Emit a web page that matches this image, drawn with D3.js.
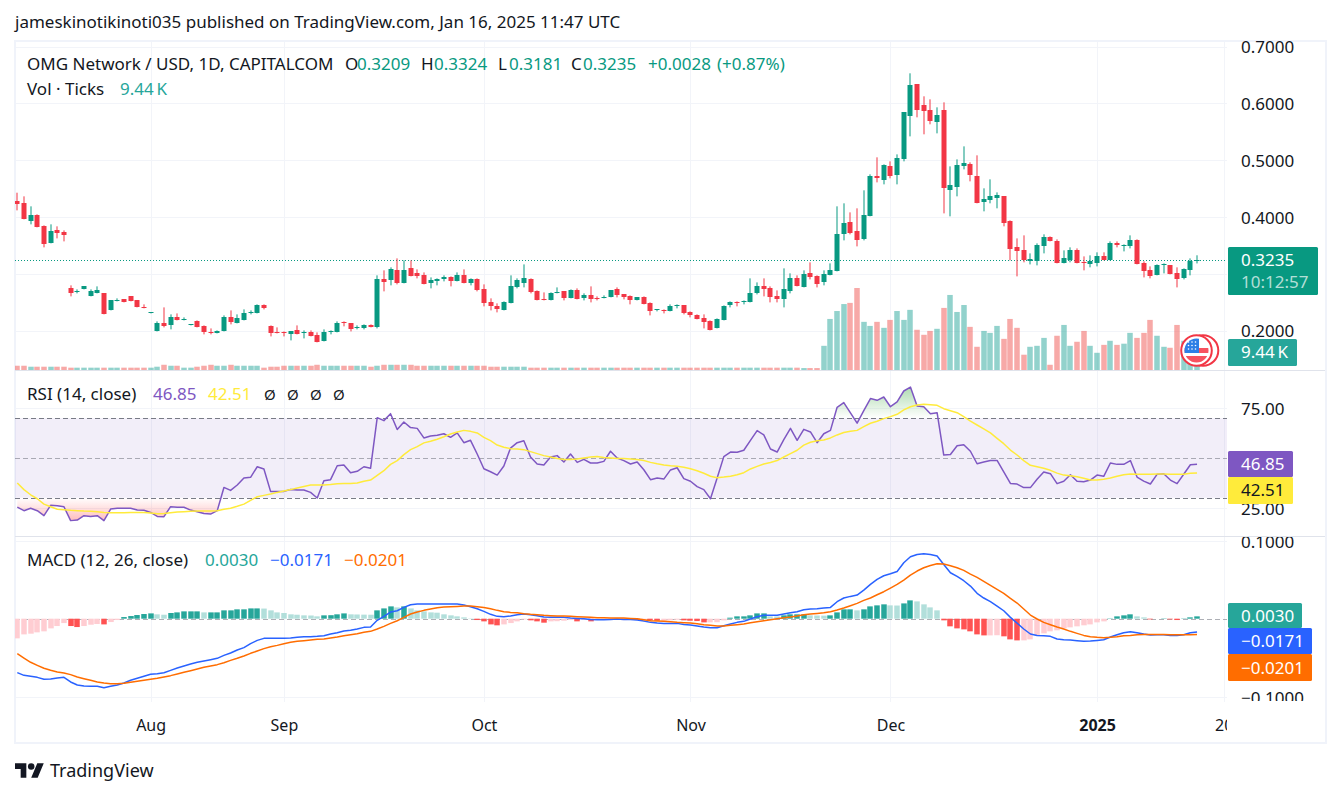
<!DOCTYPE html>
<html>
<head>
<meta charset="utf-8">
<script src="https://cdnjs.cloudflare.com/ajax/libs/d3/7.8.5/d3.min.js"></script>
<style>
  body { margin: 0; background: #fff; }
  text { font-family: "Noto Sans", sans-serif; fill: #131722; }
</style>
</head>
<body>
<div id="chart"></div>
<script>
// daily candles
var opens = [.4274,.4239,.3922,.4027,.3834,.3534,.3763,.3728,.2742,.2671,.2724,.2601,.2654,.2654,.2354,.2513,.2548,.2601,.2530,.2407,.2301,.1984,.2125,.2090,.2231,.2178,.2090,.2161,.2073,.1967,.1949,.1984,.2231,.2125,.2178,.2301,.2301,.2442,.2073,.1967,.1967,.1932,.2002,.1949,.1967,.1914,.1808,.1967,.1967,.2143,.2125,.2037,.2037,.2090,.2055,.2900,.2883,.3059,.2830,.3094,.3006,.2971,.2830,.2865,.2900,.2935,.2865,.2971,.2830,.2900,.2724,.2495,.2425,.2354,.2478,.2759,.2830,.2900,.2689,.2548,.2530,.2654,.2689,.2566,.2706,.2566,.2618,.2566,.2566,.2583,.2724,.2636,.2601,.2530,.2583,.2478,.2354,.2354,.2337,.2425,.2442,.2319,.2266,.2213,.2161,.2037,.2178,.2442,.2495,.2495,.2495,.2654,.2777,.2742,.2601,.2548,.2689,.2918,.2759,.3006,.2953,.2847,.2971,.3041,.3693,.3904,.3745,.3605,.4010,.4714,.4644,.4890,.4732,.5013,.5771,.6334,.5964,.5876,.5665,.5876,.4468,.4520,.4890,.4925,.4714,.4256,.4291,.4327,.4362,.3922,.3464,.3411,.3217,.3217,.3481,.3640,.3569,.3182,.3235,.3411,.3200,.3164,.3182,.3305,.3235,.3534,.3481,.3481,.3587,.3182,.3059,.2971,.3147,.3147,.3006,.2918,.3059,.3209];
var highs = [.4426,.4362,.4186,.4045,.3851,.3869,.3834,.3763,.2795,.2724,.2777,.2724,.2777,.2654,.2530,.2566,.2548,.2601,.2530,.2460,.2319,.2161,.2407,.2284,.2301,.2231,.2108,.2178,.2090,.2037,.2002,.2266,.2354,.2284,.2372,.2354,.2460,.2460,.2090,.2055,.1984,.1984,.2090,.2002,.2002,.1967,.2020,.2002,.2161,.2161,.2125,.2090,.2108,.2108,.2971,.3059,.3112,.3270,.3235,.3235,.3076,.3023,.2935,.2918,.2971,.2953,.3023,.3076,.2918,.2918,.2812,.2566,.2478,.2513,.2971,.2918,.3164,.2918,.2706,.2671,.2671,.2759,.2689,.2724,.2742,.2654,.2777,.2601,.2618,.2706,.2759,.2636,.2618,.2583,.2601,.2495,.2372,.2372,.2460,.2460,.2442,.2337,.2284,.2284,.2178,.2213,.2442,.2513,.2513,.2530,.2918,.2847,.2918,.2777,.2706,.3094,.3006,.2971,.3059,.3200,.2971,.3059,.3182,.4186,.4239,.4080,.4151,.4468,.4749,.5049,.4925,.4978,.5101,.5841,.6528,.6334,.6123,.6070,.5929,.6017,.4890,.5013,.5242,.4961,.5084,.4503,.4661,.4432,.4362,.3939,.3622,.3675,.3358,.3534,.3693,.3657,.3605,.3411,.3464,.3446,.3305,.3323,.3376,.3376,.3569,.3569,.3517,.3675,.3605,.3217,.3129,.3164,.3182,.3147,.3112,.3094,.3270,.3324];
var lows = [.4115,.3957,.3869,.3816,.3464,.3534,.3622,.3569,.2601,.2654,.2724,.2601,.2654,.2284,.2354,.2513,.2495,.2513,.2407,.2390,.2301,.1984,.2055,.2020,.2178,.2178,.2090,.2055,.1932,.1932,.1949,.1984,.2108,.2125,.2178,.2284,.2301,.2372,.1896,.1949,.1896,.1826,.1932,.1861,.1896,.1791,.1808,.1932,.1967,.2073,.1984,.2020,.2020,.2055,.2037,.2689,.2795,.2812,.2830,.2953,.2918,.2812,.2742,.2795,.2865,.2777,.2865,.2830,.2795,.2689,.2425,.2354,.2319,.2354,.2478,.2742,.2759,.2654,.2530,.2530,.2530,.2654,.2530,.2566,.2548,.2530,.2495,.2530,.2566,.2583,.2583,.2548,.2460,.2530,.2460,.2266,.2337,.2301,.2337,.2390,.2284,.2231,.2196,.2037,.2002,.2037,.2178,.2407,.2425,.2460,.2495,.2636,.2601,.2495,.2495,.2407,.2654,.2777,.2759,.2900,.2759,.2795,.2971,.3041,.3587,.3693,.3481,.3587,.4010,.4608,.4573,.4679,.4573,.4978,.5418,.5753,.5454,.5630,.5471,.4062,.4010,.4362,.4837,.4626,.4239,.4098,.4239,.4151,.3834,.3235,.2953,.3200,.3164,.3147,.3358,.3569,.3182,.3182,.3200,.3182,.3059,.3112,.3129,.3235,.3235,.3464,.3393,.3446,.3164,.2935,.2918,.2971,.3006,.2988,.2759,.2900,.2971,.3181];
var closes = [.4221,.3957,.4027,.3816,.3517,.3745,.3710,.3675,.2654,.2695,.2777,.2689,.2706,.2284,.2530,.2530,.2495,.2513,.2407,.2390,.2319,.2125,.2073,.2231,.2178,.2196,.2108,.2055,.1967,.1949,.1984,.2231,.2143,.2213,.2301,.2319,.2442,.2390,.1949,.1949,.1949,.1984,.1932,.1967,.1896,.1791,.1967,.1984,.2125,.2125,.2020,.2055,.2090,.2055,.2900,.2847,.3076,.2830,.3059,.2953,.2953,.2812,.2883,.2900,.2935,.2865,.2971,.2830,.2900,.2706,.2478,.2425,.2372,.2495,.2777,.2883,.2918,.2671,.2530,.2530,.2654,.2671,.2566,.2706,.2548,.2618,.2548,.2548,.2583,.2706,.2618,.2583,.2530,.2583,.2460,.2337,.2372,.2337,.2425,.2442,.2301,.2266,.2196,.2143,.2002,.2196,.2425,.2495,.2478,.2513,.2654,.2777,.2724,.2583,.2548,.2724,.2918,.2777,.2988,.2935,.2812,.2988,.3059,.3693,.3886,.3710,.3587,.4027,.4714,.4679,.4908,.4714,.5031,.5841,.6317,.5876,.5859,.5683,.5788,.4503,.4556,.4908,.4943,.4732,.4239,.4309,.4362,.4379,.3886,.3429,.3393,.3235,.3252,.3499,.3640,.3569,.3182,.3270,.3411,.3182,.3182,.3217,.3305,.3235,.3534,.3499,.3499,.3587,.3164,.3041,.2953,.3147,.3164,.2988,.2900,.3076,.3217,.3235];

// volume in thousands of ticks
var volumes = [2.2,2.2,1.7,1.7,1.7,1.7,1.7,1.7,1.2,1.2,1.2,1.2,1.2,1.2,1.2,1.2,1.2,1.2,1.2,1.2,1.2,1.7,2.7,2.2,2.2,1.2,1.2,1.7,2.2,2.7,2.2,2.2,2.7,2.2,2.2,2.2,2.2,1.2,1.7,1.7,2.2,2.2,2.2,2.2,2.2,2.7,2.2,2.2,2.2,2.2,2.2,2.2,2.2,1.7,2.2,2.7,2.7,2.7,2.7,2.7,2.2,2.2,2.2,2.2,2.2,2.2,2.2,2.2,2.2,2.2,2.2,1.7,1.7,1.7,1.7,1.7,1.7,1.2,1.2,1.2,1.2,1.2,1.2,1.2,1.2,1.2,1.2,1.2,1.2,1.2,1.2,1.2,1.2,1.2,1.2,1.2,1.2,1.2,1.2,1.2,1.2,1.2,1.2,1.2,1.2,1.2,1.2,1.2,1.2,1.2,1.2,1.2,1.2,1.2,1.2,1.2,1.2,1.2,1.0,1.0,1.0,12.5,26.4,30.5,34.1,34.7,42.4,24.9,22.8,24.9,21.8,25.9,30.5,25.9,31.1,20.8,18.2,20.2,21.3,32.1,38.8,30.0,33.6,22.3,12.0,20.2,19.2,22.8,16.1,26.4,21.8,7.9,12.0,12.5,16.6,2.7,17.7,23.3,12.5,14.6,20.2,12.5,8.9,13.0,15.1,13.0,13.6,19.2,16.6,19.2,25.9,17.7,12.0,11.5,23.3,15.1,13.0,9.44];

var rsi = [25.3,23.5,24.7,23.5,21.0,26.2,26.0,25.5,18.5,18.8,21.0,20.6,21.0,18.5,24.3,24.7,24.7,24.7,23.8,23.7,22.6,20.6,20.5,25.5,25.2,25.2,23.8,23.0,22.1,21.8,23.5,35.2,33.7,36.4,39.9,40.3,45.6,44.5,33.2,33.2,33.2,34.2,33.9,33.9,32.7,29.9,38.6,39.1,46.1,46.5,42.6,43.3,45.6,44.8,70.3,68.8,72.3,64.3,68.1,65.3,64.9,60.1,61.1,61.4,62.2,60.4,62.6,57.7,58.9,52.0,44.6,43.1,41.4,46.0,55.0,57.7,58.7,50.5,47.0,46.5,50.5,51.2,48.0,52.0,47.8,49.3,47.5,47.5,48.3,53.4,50.0,48.7,47.0,48.0,44.1,39.1,39.9,39.4,44.0,45.1,39.6,38.3,35.6,34.1,29.5,39.9,50.7,53.0,52.9,53.9,58.9,63.8,61.6,54.5,53.0,59.2,64.9,58.9,64.4,63.1,57.7,62.2,63.9,75.5,77.9,72.7,67.5,73.8,79.9,79.0,80.7,75.8,78.2,83.7,85.7,76.2,75.8,72.3,72.8,51.5,51.8,56.2,56.7,53.4,47.1,48.0,48.7,48.8,43.0,37.2,36.9,35.1,35.1,39.3,43.0,42.1,37.1,38.3,41.6,38.3,38.1,38.9,41.4,40.8,47.5,46.8,46.8,48.7,40.4,38.4,36.9,41.8,42.1,38.9,37.1,41.8,46.6,46.85];
var rsiMa = [37.4,34.1,31.5,29.5,26.8,25.5,24.2,24.0,23.7,23.5,23.3,23.2,23.0,22.6,22.5,22.5,22.5,22.6,22.6,22.6,22.3,22.0,22.1,22.5,22.8,23.0,23.2,23.3,23.3,23.3,23.5,24.2,24.7,25.7,26.8,28.7,30.5,31.2,31.9,32.7,33.4,34.1,34.9,35.7,36.4,36.4,36.4,36.7,37.1,37.2,37.2,37.4,38.3,38.9,41.3,43.6,46.8,48.7,51.7,54.2,55.7,57.6,58.4,59.4,60.7,62.1,63.1,63.9,63.4,62.6,60.4,58.7,56.5,55.4,54.7,54.5,54.2,53.2,52.2,51.2,50.5,49.8,49.3,49.3,49.5,50.0,50.5,50.7,50.3,50.0,49.7,49.7,49.5,49.2,48.7,47.8,47.1,46.5,46.1,45.8,45.3,44.6,43.6,42.3,40.8,40.1,40.4,40.8,41.6,42.6,44.5,45.8,47.0,47.7,48.7,50.5,52.2,53.9,56.5,57.9,58.7,59.1,60.1,61.6,62.8,63.4,63.9,65.8,67.5,68.5,69.8,70.8,72.0,74.2,75.8,76.7,77.0,76.8,76.5,74.8,73.8,72.8,70.8,68.6,66.6,64.6,62.6,59.9,57.2,54.0,51.5,48.7,46.3,45.6,44.8,43.8,42.4,41.4,41.1,40.6,39.8,38.9,38.9,39.3,39.9,40.8,41.6,41.9,41.8,41.8,41.8,41.9,41.9,41.8,41.8,41.8,42.3,42.51];

var macd = [-.0692,-.0726,-.0739,-.0752,-.0777,-.0773,-.0760,-.0752,-.0811,-.0850,-.0863,-.0867,-.0867,-.0884,-.0867,-.0850,-.0824,-.0790,-.0764,-.0739,-.0713,-.0705,-.0692,-.0662,-.0632,-.0606,-.0581,-.0559,-.0542,-.0525,-.0508,-.0470,-.0440,-.0401,-.0371,-.0320,-.0278,-.0252,-.0252,-.0252,-.0252,-.0248,-.0239,-.0231,-.0231,-.0226,-.0218,-.0196,-.0179,-.0158,-.0149,-.0132,-.0111,-.0107,-.0021,.0030,.0085,.0102,.0145,.0179,.0188,.0188,.0188,.0188,.0188,.0188,.0188,.0175,.0154,.0128,.0094,.0056,.0030,.0026,.0034,.0051,.0060,.0051,.0038,.0021,.0017,.0017,.0017,.0009,.0004,0,-.0009,-.0013,-.0013,-.0009,-.0004,-.0009,-.0009,-.0017,-.0030,-.0047,-.0056,-.0060,-.0060,-.0060,-.0073,-.0081,-.0094,-.0107,-.0115,-.0115,-.0090,-.0068,-.0047,-.0034,-.0004,.0026,.0043,.0043,.0043,.0060,.0077,.0090,.0115,.0124,.0128,.0137,.0145,.0218,.0265,.0286,.0303,.0367,.0440,.0504,.0551,.0576,.0606,.0717,.0794,.0824,.0833,.0824,.0803,.0696,.0589,.0542,.0487,.0418,.0325,.0265,.0218,.0162,.0102,.0017,-.0056,-.0132,-.0196,-.0214,-.0218,-.0226,-.0260,-.0269,-.0273,-.0282,-.0290,-.0286,-.0278,-.0269,-.0235,-.0205,-.0179,-.0167,-.0179,-.0196,-.0209,-.0205,-.0205,-.0214,-.0214,-.0205,-.0179,-.0171];
var signal = [-.0448,-.0504,-.0559,-.0598,-.0636,-.0662,-.0683,-.0696,-.0717,-.0747,-.0769,-.0790,-.0811,-.0824,-.0833,-.0833,-.0828,-.0816,-.0803,-.0790,-.0777,-.0764,-.0747,-.0730,-.0709,-.0687,-.0666,-.0645,-.0623,-.0606,-.0589,-.0564,-.0534,-.0508,-.0478,-.0444,-.0414,-.0384,-.0359,-.0342,-.0320,-.0303,-.0290,-.0282,-.0273,-.0265,-.0260,-.0248,-.0235,-.0218,-.0205,-.0192,-.0175,-.0162,-.0132,-.0098,-.0060,-.0026,.0017,.0060,.0085,.0107,.0124,.0141,.0149,.0154,.0158,.0162,.0162,.0154,.0145,.0128,.0107,.0090,.0081,.0077,.0064,.0056,.0051,.0043,.0038,.0034,.0034,.0030,.0026,.0021,.0017,.0013,.0013,.0009,.0009,.0009,.0004,0,-.0013,-.0026,-.0030,-.0034,-.0038,-.0047,-.0051,-.0056,-.0064,-.0077,-.0085,-.0094,-.0094,-.0085,-.0077,-.0068,-.0051,-.0038,-.0026,-.0013,0,.0013,.0021,.0034,.0051,.0060,.0068,.0077,.0090,.0111,.0137,.0167,.0196,.0235,.0265,.0307,.0346,.0393,.0440,.0495,.0559,.0611,.0653,.0683,.0705,.0700,.0679,.0653,.0619,.0572,.0529,.0478,.0427,.0376,.0325,.0260,.0201,.0124,.0047,-.0004,-.0047,-.0077,-.0107,-.0132,-.0162,-.0188,-.0214,-.0231,-.0239,-.0243,-.0239,-.0231,-.0218,-.0214,-.0205,-.0201,-.0201,-.0201,-.0201,-.0205,-.0205,-.0205,-.0205,-.0201];
var hist = [-.0252,-.0201,-.0192,-.0175,-.0162,-.0124,-.0094,-.0056,-.0094,-.0107,-.0094,-.0077,-.0068,-.0073,-.0043,-.0017,.0021,.0034,.0047,.0060,.0068,.0056,.0051,.0073,.0081,.0094,.0094,.0094,.0081,.0081,.0081,.0107,.0107,.0120,.0120,.0132,.0132,.0130,.0107,.0081,.0073,.0056,.0051,.0043,.0041,.0030,.0043,.0045,.0056,.0068,.0056,.0054,.0052,.0051,.0107,.0132,.0158,.0145,.0158,.0132,.0107,.0094,.0081,.0077,.0056,.0043,.0030,.0017,.0004,-.0017,-.0034,-.0073,-.0085,-.0073,-.0056,-.0034,-.0009,-.0021,-.0034,-.0051,-.0034,-.0032,-.0026,-.0017,-.0034,-.0017,-.0034,-.0017,-.0009,-.0009,-.0008,-.0017,-.0013,-.0017,-.0017,-.0021,-.0026,-.0026,-.0021,-.0013,-.0021,-.0026,-.0030,-.0047,-.0047,-.0045,-.0021,.0013,.0030,.0030,.0043,.0068,.0068,.0030,.0028,.0043,.0056,.0056,.0056,.0043,.0041,.0039,.0043,.0081,.0120,.0120,.0107,.0120,.0158,.0171,.0184,.0171,.0169,.0196,.0235,.0222,.0184,.0145,.0107,-.0021,-.0098,-.0124,-.0137,-.0162,-.0201,-.0214,-.0214,-.0212,-.0226,-.0265,-.0278,-.0278,-.0265,-.0214,-.0188,-.0162,-.0149,-.0124,-.0111,-.0098,-.0085,-.0073,-.0047,-.0034,.0004,.0030,.0043,.0056,.0030,.0017,-.0009,0,.0004,-.0009,-.0017,.0004,.0017,.0030];

// axis ticks
var priceTicks = [0.7, 0.6, 0.5, 0.4, 0.3, 0.2];
var shownPriceTicks = [0.7, 0.6, 0.5, 0.4, 0.2];
var rsiTicks = [75, 25];
var macdTicks = [0.1, -0.1];
var monthBars = [20, 40, 70, 101, 131, 162, 181];
var monthLabels = ["Aug", "Sep", "Oct", "Nov", "Dec", "2025", "20"];

var width = 1341, height = 797;
var left = 15, plotRight = 1227;

var svg = d3.select("#chart").append("svg")
    .attr("width", width).attr("height", height)
    .style("display", "block");
var defs = svg.append("defs");

// scales
var x = d3.scaleLinear().domain([0, 181]).range([17.3, 1223.7]);
var yPrice = d3.scaleLinear().domain([0.2, 0.7]).range([330.5, 46.5]);
var yVol = d3.scaleLinear().domain([0, 42.4]).range([370, 288]);
var yRsi = d3.scaleLinear().domain([25, 75]).range([507.7, 408.3]);
var yMacd = d3.scaleLinear().domain([-0.1, 0.1]).range([696.7, 540.7]);

var green = "#089981", red = "#f23645", gridColor = "#f2f4f9", sepColor = "#e0e3eb";
var bars = d3.range(opens.length);

function addClip(id, x0, y0, w, h) {
    defs.append("clipPath").attr("id", id).append("rect")
        .attr("x", x0).attr("y", y0).attr("width", w).attr("height", h);
}
addClip("clip-main", left, 42, plotRight - left, 328);
addClip("clip-rsi", left, 371, plotRight - left, 165);
addClip("clip-macd", left, 538, plotRight - left, 164);
addClip("clip-over", left, 371, plotRight - left, yRsi(70) - 371);
addClip("clip-under", left, yRsi(30), plotRight - left, 536 - yRsi(30));
addClip("clip-macd-axis", 1228, 537, 110, 164);
addClip("clip-time", left, 703, plotRight - left, 38);

function label(xPos, yPos, str, color, size, weight) {
    return svg.append("text")
        .attr("x", xPos).attr("y", yPos)
        .style("font-size", (size || 17) + "px")
        .style("font-weight", weight || 400)
        .style("fill", color || "#131722")
        .text(str);
}

// background grid
var grid = svg.append("g").attr("stroke", gridColor).attr("stroke-width", 1);
grid.selectAll(".v").data(monthBars).enter().append("line")
    .attr("x1", function (d) { return Math.round(x(d)) + 0.5; })
    .attr("x2", function (d) { return Math.round(x(d)) + 0.5; })
    .attr("y1", 42).attr("y2", 702);

function hGrid(ticks, scale) {
    grid.selectAll(null).data(ticks).enter().append("line")
        .attr("x1", left).attr("x2", plotRight)
        .attr("y1", function (d) { return Math.round(scale(d)) + 0.5; })
        .attr("y2", function (d) { return Math.round(scale(d)) + 0.5; });
}
hGrid(priceTicks, yPrice);
hGrid(rsiTicks, yRsi);
hGrid(macdTicks, yMacd);

// frame and pane separators
svg.append("rect").attr("x", 15).attr("y", 41).attr("width", 1311).attr("height", 702)
    .attr("fill", "none").attr("stroke", "#f0f3fa").attr("stroke-width", 2);
svg.selectAll(".sep").data([370.5, 536.5]).enter().append("line")
    .attr("x1", left).attr("x2", 1325)
    .attr("y1", function (d) { return d; }).attr("y2", function (d) { return d; })
    .attr("stroke", sepColor);

// main pane
var main = svg.append("g").attr("clip-path", "url(#clip-main)");

main.selectAll(".vol").data(bars).enter().append("rect")
    .attr("x", function (i) { return Math.round(x(i)) - 2.75; })
    .attr("width", 5.5)
    .attr("y", function (i) { return yVol(volumes[i]); })
    .attr("height", function (i) { return yVol(0) - yVol(volumes[i]); })
    .attr("fill", function (i) { return closes[i] >= opens[i] ? "rgba(38,166,154,.5)" : "rgba(239,83,80,.5)"; });

main.append("line")
    .attr("x1", left).attr("x2", plotRight)
    .attr("y1", Math.round(yPrice(closes[closes.length - 1])) + 0.5)
    .attr("y2", Math.round(yPrice(closes[closes.length - 1])) + 0.5)
    .attr("stroke", green).attr("stroke-dasharray", "1 2");

main.selectAll(".wick").data(bars).enter().append("rect")
    .attr("x", function (i) { return Math.round(x(i)) - 0.5; })
    .attr("width", 1)
    .attr("y", function (i) { return yPrice(highs[i]); })
    .attr("height", function (i) { return yPrice(lows[i]) - yPrice(highs[i]); })
    .attr("fill", function (i) { return closes[i] >= opens[i] ? green : red; });

main.selectAll(".body").data(bars).enter().append("rect")
    .attr("x", function (i) { return Math.round(x(i)) - 2.5; })
    .attr("width", 5)
    .attr("y", function (i) { return Math.round(yPrice(Math.max(opens[i], closes[i]))); })
    .attr("height", function (i) { return Math.max(1, Math.round(Math.abs(yPrice(opens[i]) - yPrice(closes[i])))); })
    .attr("fill", function (i) { return closes[i] >= opens[i] ? green : red; });

// flag marker over the last volume bars
var flag = svg.append("g");
defs.append("clipPath").attr("id", "clip-flag").append("circle").attr("cx", 1196.5).attr("cy", 350.5).attr("r", 12);
flag.append("circle").attr("cx", 1203).attr("cy", 350.5).attr("r", 15.3).attr("fill", "#fff").attr("stroke", "#f23645").attr("stroke-width", 2);
flag.append("circle").attr("cx", 1196.5).attr("cy", 350.5).attr("r", 15.3).attr("fill", "#fff").attr("stroke", "#f23645").attr("stroke-width", 2);
var flagInner = flag.append("g").attr("clip-path", "url(#clip-flag)");
flagInner.append("rect").attr("x", 1184).attr("y", 338).attr("width", 25).attr("height", 25).attr("fill", "#fff");
flagInner.append("rect").attr("x", 1184).attr("y", 348).attr("width", 25).attr("height", 5).attr("fill", "#f7525f");
flagInner.append("rect").attr("x", 1184).attr("y", 356).attr("width", 25).attr("height", 7).attr("fill", "#f7525f");
flagInner.append("rect").attr("x", 1184).attr("y", 338).attr("width", 15).attr("height", 15).attr("fill", "#2d7fe6");
svg.append("g").selectAll("circle").data(d3.cross([1188.5, 1192, 1195.5], [342, 345.5, 349])).enter().append("circle")
    .attr("cx", function (d) { return d[0]; }).attr("cy", function (d) { return d[1]; })
    .attr("r", 0.8).attr("fill", "#fff");

// RSI pane
var rsiPane = svg.append("g").attr("clip-path", "url(#clip-rsi)");
rsiPane.append("rect")
    .attr("x", left).attr("width", plotRight - left)
    .attr("y", yRsi(70)).attr("height", yRsi(30) - yRsi(70))
    .attr("fill", "rgba(126,87,194,.1)");

var overGrad = defs.append("linearGradient").attr("id", "over-grad")
    .attr("gradientUnits", "userSpaceOnUse").attr("x1", 0).attr("x2", 0)
    .attr("y1", yRsi(86)).attr("y2", yRsi(70));
overGrad.append("stop").attr("offset", 0).attr("stop-color", "rgba(76,175,80,.45)");
overGrad.append("stop").attr("offset", 1).attr("stop-color", "rgba(76,175,80,0)");
var underGrad = defs.append("linearGradient").attr("id", "under-grad")
    .attr("gradientUnits", "userSpaceOnUse").attr("x1", 0).attr("x2", 0)
    .attr("y1", yRsi(30)).attr("y2", yRsi(18));
underGrad.append("stop").attr("offset", 0).attr("stop-color", "rgba(255,82,82,0)");
underGrad.append("stop").attr("offset", 1).attr("stop-color", "rgba(255,82,82,.4)");

function rsiFill(level, clip, grad) {
    rsiPane.append("g").attr("clip-path", "url(#" + clip + ")").append("path")
        .datum(bars)
        .attr("d", d3.area().x(function (i) { return x(i); })
            .y0(yRsi(level)).y1(function (i) { return yRsi(rsi[i]); }))
        .attr("fill", "url(#" + grad + ")");
}
rsiFill(70, "clip-over", "over-grad");
rsiFill(30, "clip-under", "under-grad");

var rsiLevels = [70, 50, 30];
rsiPane.selectAll(".lvl").data(rsiLevels).enter().append("line")
    .attr("x1", left).attr("x2", plotRight)
    .attr("y1", function (d) { return Math.round(yRsi(d)) + 0.5; })
    .attr("y2", function (d) { return Math.round(yRsi(d)) + 0.5; })
    .attr("stroke", "#787b86")
    .attr("stroke-opacity", function (d) { return d === 50 ? 0.6 : 1; })
    .attr("stroke-dasharray", "5 3");

function drawLine(pane, values, scale, color, w) {
    pane.append("path").datum(bars)
        .attr("d", d3.line().x(function (i) { return x(i); }).y(function (i) { return scale(values[i]); }))
        .attr("fill", "none").attr("stroke", color).attr("stroke-width", w)
        .attr("stroke-linejoin", "round");
}
drawLine(rsiPane, rsi, yRsi, "#7e57c2", 1.5);
drawLine(rsiPane, rsiMa, yRsi, "#ffeb3b", 1.5);

// MACD pane
var macdPane = svg.append("g").attr("clip-path", "url(#clip-macd)");
macdPane.append("line")
    .attr("x1", left).attr("x2", plotRight)
    .attr("y1", Math.round(yMacd(0)) + 0.5).attr("y2", Math.round(yMacd(0)) + 0.5)
    .attr("stroke", "#787b86").attr("stroke-opacity", 0.6).attr("stroke-dasharray", "5 3");

macdPane.selectAll(".hist").data(bars).enter().append("rect")
    .attr("x", function (i) { return Math.round(x(i)) - 2.75; })
    .attr("width", 5.5)
    .attr("y", function (i) { return Math.min(yMacd(0), yMacd(hist[i])); })
    .attr("height", function (i) { return Math.abs(yMacd(hist[i]) - yMacd(0)); })
    .attr("fill", function (i) {
        var prev = i > 0 ? hist[i - 1] : hist[i];
        if (hist[i] >= 0) return hist[i] >= prev ? "#26a69a" : "#b2dfdb";
        return hist[i] < prev ? "#ff5252" : "#ffcdd2";
    });
drawLine(macdPane, macd, yMacd, "#2962ff", 1.5);
drawLine(macdPane, signal, yMacd, "#ff6d00", 1.5);

// value axes on the right
function valueAxis(scale, ticks, fmt, clip) {
    var g = svg.append("g").attr("transform", "translate(1241,1)")
        .call(d3.axisRight(scale).tickValues(ticks).tickFormat(fmt).tickSize(0).tickPadding(0));
    g.select(".domain").remove();
    g.selectAll("text").style("font-size", "17px").style("font-family", "'Noto Sans', sans-serif").style("fill", "#131722");
    if (clip) {
        svg.append("g").attr("clip-path", "url(#" + clip + ")").node().appendChild(g.node());
    }
    return g;
}
valueAxis(yPrice, shownPriceTicks, d3.format(".4f"));
valueAxis(yRsi, rsiTicks, d3.format(".2f"));
valueAxis(yMacd, macdTicks, d3.format(".4f"), "clip-macd-axis");

// time axis
var timeAxis = svg.append("g").attr("clip-path", "url(#clip-time)").append("g")
    .attr("transform", "translate(0,720)")
    .call(d3.axisBottom(x).tickValues(monthBars)
        .tickFormat(function (d, i) { return monthLabels[i]; })
        .tickSize(0).tickPadding(0));
timeAxis.select(".domain").remove();
timeAxis.selectAll("text")
    .style("font-size", "16px").style("font-family", "'Noto Sans', sans-serif").style("fill", "#131722")
    .style("font-weight", function (d, i) { return monthLabels[i] === "2025" ? 700 : 400; });

// badges on the right
function badge(x0, y0, w, h, color) {
    svg.append("rect").attr("x", x0).attr("y", y0).attr("width", w).attr("height", h)
        .attr("rx", 1.5).attr("fill", color);
}
badge(1228, 247, 90, 48, green);
label(1241, 266, "0.3235", "#fff");
label(1241, 288, "10:12:57", "rgba(255,255,255,.7)");
badge(1228, 339, 69, 27, "#26a69a");
label(1241, 358, "9.44\u2009K", "#fff");
badge(1228, 451, 65, 26, "#7e57c2");
label(1241, 470, "46.85", "#fff");
badge(1228, 477, 65, 27, "#ffeb3b");
label(1241, 496, "42.51", "#131722");
badge(1228, 603, 74, 25, "#26a69a");
label(1241, 622, "0.0030", "#fff");
badge(1228, 628, 84, 26, "#2962ff");
label(1241, 647, "\u22120.0171", "#fff");
badge(1228, 654, 84, 27, "#ff6d00");
label(1241, 674, "\u22120.0201", "#fff");

// header and legends
label(15, 28, "jameskinotikinoti035 published on TradingView.com, Jan 16, 2025 11:47 UTC");

label(27, 70, "OMG Network / USD, 1D, CAPITALCOM");
label(345, 70, "O"); label(357, 70, "0.3209", green);
label(421, 70, "H"); label(434, 70, "0.3324", green);
label(498, 70, "L"); label(509, 70, "0.3181", green);
label(571, 70, "C"); label(583, 70, "0.3235", green);
label(648, 70, "+0.0028", green);
label(717, 70, "(+0.87%)", green);
label(27, 95, "Vol \u00b7 Ticks");
label(120, 95, "9.44\u2009K", "#26a69a");

label(27, 400, "RSI (14, close)");
label(153, 400, "46.85", "#7e57c2");
label(208, 400, "42.51", "#ffeb3b");
svg.selectAll(".na").data([264, 287, 310, 333]).enter().append("text")
    .attr("x", function (d) { return d; }).attr("y", 400)
    .style("font-size", "15px").text("\u00d8");

label(27, 566, "MACD (12, 26, close)");
label(205, 566, "0.0030", "#26a69a");
label(270, 566, "\u22120.0171", "#2962ff");
label(344, 566, "\u22120.0201", "#ff6d00");

// footer logo
var logo = svg.append("g").attr("transform", "translate(15,760) scale(.81)").attr("fill", "#131722");
logo.append("path").attr("d", "M14 22H7V11H0V4h14v18zM28 22h-8l7.5-18h8L28 22z");
logo.append("circle").attr("cx", 20).attr("cy", 8).attr("r", 4);
label(50, 777, "TradingView", "#131722", 18);
</script>
</body>
</html>
